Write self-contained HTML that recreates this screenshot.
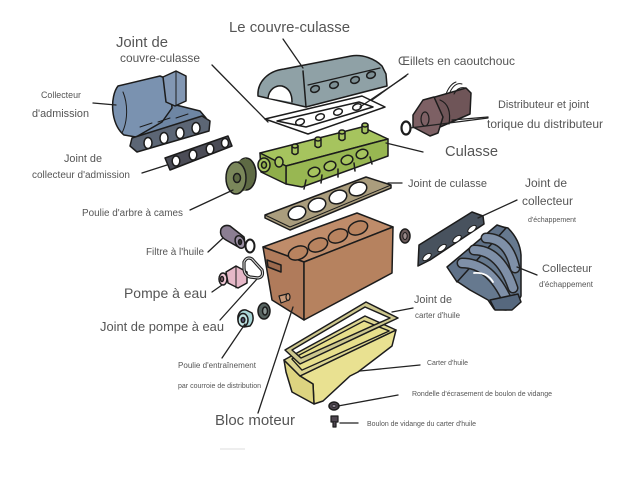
<!DOCTYPE html>
<html><head><meta charset="utf-8"><style>
html,body{margin:0;padding:0;background:#fff;}
svg{display:block;}
text{font-family:"Liberation Sans",Arial,sans-serif;fill:#555;}
</style></head><body>
<svg width="640" height="500" viewBox="0 0 640 500" xmlns="http://www.w3.org/2000/svg">
<rect width="640" height="500" fill="#fff"/>
<g stroke="#1c1c1c" stroke-width="1.5" stroke-linejoin="round" stroke-linecap="round">

<!-- Intake manifold -->
<path d="M125,118 L172,104 L200,111 L206,118 L140,139 L128,134 Z" fill="#6e86a4"/>
<path d="M118,86 C110,96 110,124 124,135 L136,137 L162,122 L172,108 L170,80 L160,76 Z" fill="#7a92b0"/>
<path d="M123,92 C128,104 128,121 122,133" fill="none" stroke-width="1"/>
<path d="M163,77 L176,71 L186,76 L186,101 L175,106 L166,102 Z" fill="#8297b3"/>
<path d="M176,72 L176,106" fill="none" stroke-width="1"/>
<path d="M140,127 L152,123 M158,122 L170,118 M176,118 L188,114" fill="none" stroke-width="1"/>
<path d="M132,138 L202,116 L210,121 L209,131 L137,152 L130,146 Z" fill="#5c6675"/>
<ellipse cx="148" cy="143" rx="4" ry="5.5" fill="#fff"/>
<ellipse cx="164" cy="138" rx="4" ry="5.5" fill="#fff"/>
<ellipse cx="180" cy="133" rx="4" ry="5.5" fill="#fff"/>
<ellipse cx="196" cy="128" rx="4" ry="5.5" fill="#fff"/>

<!-- Intake gasket -->
<path d="M165,158 L228,136 L232,146 L170,170 Z" fill="#4b4c56"/>
<ellipse cx="176" cy="161" rx="3.8" ry="5" fill="#fff"/>
<ellipse cx="193" cy="155" rx="3.8" ry="5" fill="#fff"/>
<ellipse cx="210" cy="149" rx="3.8" ry="5" fill="#fff"/>
<ellipse cx="225" cy="143" rx="3.5" ry="4.5" fill="#fff"/>

<!-- Cam pulley -->
<ellipse cx="246" cy="174" rx="10" ry="16" fill="#5e6a44"/>
<path d="M236,162 L246,158 L246,190 L236,194 Z" fill="#5e6a44" stroke="none"/>
<ellipse cx="236" cy="178" rx="10" ry="16" fill="#7a875a"/>
<ellipse cx="237" cy="178" rx="3.5" ry="4.5" fill="#5e6a44"/>

<!-- Valve cover gasket -->
<path d="M265,119 L362,96 L385,107 L308,134 Z M277,121 L359,102 L373,107 L306,127 Z" fill="#fff" fill-rule="evenodd"/>
<ellipse cx="300" cy="122" rx="4.5" ry="3" fill="#fff" transform="rotate(-20 300 122)"/>
<ellipse cx="320" cy="117" rx="4.5" ry="3" fill="#fff" transform="rotate(-20 320 117)"/>
<ellipse cx="338" cy="112" rx="4.5" ry="3" fill="#fff" transform="rotate(-20 338 112)"/>
<ellipse cx="357" cy="107" rx="4.5" ry="3" fill="#fff" transform="rotate(-20 357 107)"/>

<!-- Valve cover -->
<path d="M258,96 C257,82 268,71 284,69 L351,56 C363,54 375,59 382,66 L386,74 L387,86 L306,107 Z" fill="#8fa1a6"/>
<path d="M303,71 C304,82 305,95 306,107" fill="none"/>
<path d="M268,98 C269,89 276,85 282,86 C289,88 292,94 292,102" fill="#fff"/>
<path d="M308,85 L380,68" fill="none" stroke-width="1.2"/>
<ellipse cx="315" cy="89" rx="4.5" ry="3.2" fill="#7d8f94" transform="rotate(-20 315 89)"/>
<ellipse cx="334" cy="85" rx="4.5" ry="3.2" fill="#7d8f94" transform="rotate(-20 334 85)"/>
<ellipse cx="355" cy="80" rx="4.5" ry="3.2" fill="#7d8f94" transform="rotate(-20 355 80)"/>
<ellipse cx="371" cy="75" rx="4.5" ry="3.2" fill="#7d8f94" transform="rotate(-20 371 75)"/>

<!-- Distributor -->
<path d="M428,99 L466,88 L471,93 L470,114 L440,127 Z" fill="#6f5558"/>
<path d="M450,92 Q455,82 462,84 M454,94 Q458,86 466,88 M446,94 Q450,84 456,82" fill="none" stroke-width="1"/>
<path d="M413,115 L423,100 L434,97 L443,117 L438,133 L430,136 L413,127 Z" fill="#7d6064"/>
<ellipse cx="425" cy="119" rx="4" ry="7" fill="none" stroke-width="1.2"/>
<path d="M440,100 Q452,105 449,124" fill="none" stroke-width="1.2"/>
<ellipse cx="406" cy="128" rx="4.5" ry="6.5" fill="none" stroke-width="2.2"/>

<!-- Cylinder head -->
<path d="M260,153 L362,127 L388,139 L286,166 Z" fill="#a6c45e"/>
<path d="M286,166 L388,139 L388,156 L302,187 L286,184 Z" fill="#98b752"/>
<path d="M260,153 L286,166 L286,184 L261,172 Z" fill="#8fae4a"/>
<ellipse cx="264" cy="165" rx="6" ry="7" fill="#a6c45e"/>
<ellipse cx="264" cy="165" rx="2.5" ry="3.2" fill="#8fae4a"/>
<ellipse cx="279" cy="162" rx="4" ry="5" fill="#a6c45e"/>
<g fill="#a6c45e">
<path d="M292,146 L292,153 Q295,156 298,153 L298,146 Z"/><ellipse cx="295" cy="146" rx="3" ry="2"/>
<path d="M315,139 L315,146 Q318,149 321,146 L321,139 Z"/><ellipse cx="318" cy="139" rx="3" ry="2"/>
<path d="M339,132 L339,139 Q342,142 345,139 L345,132 Z"/><ellipse cx="342" cy="132" rx="3" ry="2"/>
<path d="M362,125 L362,132 Q365,135 368,132 L368,125 Z"/><ellipse cx="365" cy="125" rx="3" ry="2"/>
</g>
<g fill="#a6c45e">
<ellipse cx="314" cy="172" rx="6" ry="4.5" transform="rotate(-20 314 172)"/>
<ellipse cx="330" cy="166" rx="6" ry="4.5" transform="rotate(-20 330 166)"/>
<ellipse cx="347" cy="160" rx="6" ry="4.5" transform="rotate(-20 347 160)"/>
<ellipse cx="362" cy="154" rx="6" ry="4.5" transform="rotate(-20 362 154)"/>
</g>
<path d="M306,180 L304,189 M322,175 L321,183 M338,169 L338,177 M354,163 L355,171 M370,157 L372,164" fill="none"/>

<!-- Head gasket -->
<path d="M265,215 L366,177 L391,185 L391,188 L290,230 L265,218 Z" fill="#aa9d7d"/>
<path d="M265,215 L290,227 L391,185" fill="none" stroke-width="1"/>
<ellipse cx="297" cy="213" rx="9" ry="6.5" fill="#fff" transform="rotate(-20 297 213)"/>
<ellipse cx="317" cy="205" rx="9" ry="6.5" fill="#fff" transform="rotate(-20 317 205)"/>
<ellipse cx="338" cy="197" rx="9" ry="6.5" fill="#fff" transform="rotate(-20 338 197)"/>
<ellipse cx="358" cy="189" rx="9" ry="6.5" fill="#fff" transform="rotate(-20 358 189)"/>

<!-- Oil filter + o-ring -->
<path d="M221,229 Q224,224 230,226 L244,237 Q246,244 240,248 L226,240 Q219,236 221,229 Z" fill="#8b7e92"/>
<ellipse cx="240" cy="242" rx="4.5" ry="6.5" fill="#9a8ea3" transform="rotate(-25 240 242)"/>
<ellipse cx="240" cy="242" rx="1.5" ry="2.5" fill="#333"/>
<ellipse cx="250" cy="246" rx="4.5" ry="6.5" fill="none" stroke-width="2"/>

<!-- Water pump -->
<path d="M226,272 L236,266 L247,272 L247,283 L238,288 L228,283 Z" fill="#e6b8c8"/>
<path d="M236,266 L236,288" fill="none" stroke-width="1"/>
<ellipse cx="223" cy="279" rx="4" ry="6" fill="#f0c8d6"/>
<ellipse cx="222" cy="279" rx="1.5" ry="2.5" fill="#a07080"/>
<path d="M244,262 Q247,256 252,259 L262,270 Q264,277 258,278 L250,277 Q244,275 244,268 Z" fill="none" stroke="#222" stroke-width="3.2"/>
<path d="M244,262 Q247,256 252,259 L262,270 Q264,277 258,278 L250,277 Q244,275 244,268 Z" fill="none" stroke="#ddd" stroke-width="1"/>

<!-- Crank pulley + seal -->
<path d="M238,316 Q240,309 246,310 L252,313 Q255,320 250,326 L244,327 Q237,324 238,316 Z" fill="#a7d5d6"/>
<ellipse cx="243" cy="320" rx="5" ry="6.5" fill="#bfe3e3"/>
<ellipse cx="243" cy="320" rx="1.8" ry="2.5" fill="#557"/>
<ellipse cx="264" cy="311" rx="6" ry="8" fill="#55625f"/>
<ellipse cx="265" cy="311" rx="2.5" ry="4" fill="#8a9694"/>

<!-- Engine block -->
<path d="M263,247 L357,213 L393,227 L304,262 Z" fill="#bf8c6a"/>
<path d="M263,247 L304,262 L304,320 L272,300 Z" fill="#b07b5b"/>
<path d="M304,262 L393,227 L392,273 L304,320 Z" fill="#b6825f"/>
<ellipse cx="298" cy="253" rx="10" ry="6.5" fill="#b8835f" transform="rotate(-21 298 253)"/>
<ellipse cx="318" cy="245" rx="10" ry="6.5" fill="#b8835f" transform="rotate(-21 318 245)"/>
<ellipse cx="338" cy="236" rx="10" ry="6.5" fill="#b8835f" transform="rotate(-21 338 236)"/>
<ellipse cx="358" cy="228" rx="10" ry="6.5" fill="#b8835f" transform="rotate(-21 358 228)"/>
<path d="M267,260 L281,265 L281,272 L268,267 Z" fill="#9c6a4e"/>
<path d="M279,296 L287,294 L289,300 L281,303 Z" fill="#c99a7a" stroke-width="1.2"/>
<ellipse cx="288" cy="297" rx="2" ry="3.5" fill="#c99a7a" stroke-width="1.2"/>

<!-- Small seal right of block -->
<ellipse cx="405" cy="236" rx="5" ry="7" fill="#6a5a5a"/>
<ellipse cx="405" cy="236" rx="2.2" ry="3.5" fill="#9a8a8a" stroke-width="1"/>

<!-- Exhaust gasket -->
<path d="M419,245 L472,212 L483,216 L484,224 L430,260 L418,266 Z" fill="#48525e"/>
<ellipse cx="427" cy="257" rx="5" ry="2.5" fill="#fff" transform="rotate(-38 427 257)" stroke-width="1"/>
<ellipse cx="442" cy="248" rx="5" ry="2.5" fill="#fff" transform="rotate(-38 442 248)" stroke-width="1"/>
<ellipse cx="457" cy="239" rx="5" ry="2.5" fill="#fff" transform="rotate(-38 457 239)" stroke-width="1"/>
<ellipse cx="472" cy="229" rx="5" ry="2.5" fill="#fff" transform="rotate(-38 472 229)" stroke-width="1"/>

<!-- Exhaust manifold -->
<path d="M450,268 L498,226 L508,228 Q520,240 521,255 L521,296 L516,306 L506,310 L494,309 L488,300 L470,290 L458,282 Z" fill="#66798f"/>
<path d="M447,267 L497,225 L506,228 L457,282 Z" fill="#5f7188"/>
<path d="M486,238 Q508,238 515,268" fill="none" stroke="#222" stroke-width="11"/>
<path d="M486,238 Q508,238 515,268" fill="none" stroke="#7f90a8" stroke-width="8"/>
<path d="M474,250 Q500,250 513,288" fill="none" stroke="#222" stroke-width="11"/>
<path d="M474,250 Q500,250 513,288" fill="none" stroke="#7f90a8" stroke-width="8"/>
<path d="M462,263 Q490,263 507,300" fill="none" stroke="#222" stroke-width="11"/>
<path d="M462,263 Q490,263 507,300" fill="none" stroke="#7f90a8" stroke-width="8"/>
<path d="M474,273 Q487,272 493,282" fill="none" stroke="#fff" stroke-width="1.8"/>
<path d="M490,300 L518,294 L521,302 L512,310 L495,310 Z" fill="#56687e"/>

<!-- Oil pan body -->
<path d="M300,376 L396,330 L392,346 L358,372 L350,376 L323,401 L314,404 L313,384 Z" fill="#e9e191"/>
<path d="M284,360 L300,376 L313,384 L314,404 L292,392 L286,372 Z" fill="#ddd480"/>
<!-- Oil pan rim + interior -->
<path d="M284,360 L365,316 L396,330 L300,376 Z M292,359 L364,321 L389,331 L302,370 Z" fill="#dcd590" fill-rule="evenodd"/>
<path d="M292,359 L364,321 L389,331 L302,370 Z" fill="#e7df8c" stroke-width="1.2"/>
<!-- Oil pan gasket -->
<path d="M285,350 L366,302 L398,318 L300,364 Z M292,350 L365,307 L390,318 L301,358 Z" fill="#cdc78e" fill-rule="evenodd"/>

<!-- Drain washer & bolt -->
<ellipse cx="334" cy="406" rx="5" ry="4" fill="#4e4650"/>
<ellipse cx="334" cy="406" rx="2" ry="1.5" fill="#8a8290" stroke-width="0.8"/>
<path d="M331,416 L338,416 L338,422 L331,422 Z" fill="#4e4650" stroke-width="1.2"/>
<path d="M333,422 L333,427 L336,427 L336,422" fill="#4e4650" stroke-width="1.2"/>
</g>

<!-- Leader lines -->
<g stroke="#222" stroke-width="1.3" stroke-linecap="round" fill="none">
<path d="M283,39 L303,68"/>
<path d="M212,65 L268,122"/>
<path d="M408,74 L372,100"/>
<path d="M406,76 L360,107"/>
<path d="M488,117 L452,120"/>
<path d="M488,118 L410,128"/>
<path d="M423,152 L386,143"/>
<path d="M402,183 L388,183"/>
<path d="M517,200 L478,218"/>
<path d="M93,103 L116,105"/>
<path d="M142,173 L167,165"/>
<path d="M190,210 L233,190"/>
<path d="M208,252 L223,238"/>
<path d="M212,292 L222,285"/>
<path d="M220,320 L257,279"/>
<path d="M222,358 L245,324"/>
<path d="M258,413 L293,307"/>
<path d="M413,308 L392,312"/>
<path d="M537,275 L517,267"/>
<path d="M420,365 L360,371"/>
<path d="M398,395 L338,406"/>
<path d="M358,423 L340,423"/>
</g>
<path d="M220,449 L245,449" stroke="#e8e8e8" stroke-width="1.5"/>

<!-- Labels -->
<text x="229" y="32" font-size="15" textLength="121" lengthAdjust="spacingAndGlyphs">Le couvre-culasse</text>
<text x="116" y="47" font-size="15" textLength="52" lengthAdjust="spacingAndGlyphs">Joint de</text>
<text x="120" y="62" font-size="12" textLength="80" lengthAdjust="spacingAndGlyphs">couvre-culasse</text>
<text x="398" y="65" font-size="12" textLength="117" lengthAdjust="spacingAndGlyphs">Œillets en caoutchouc</text>
<text x="41" y="98" font-size="9" textLength="40" lengthAdjust="spacingAndGlyphs">Collecteur</text>
<text x="32" y="117" font-size="11" textLength="57" lengthAdjust="spacingAndGlyphs">d'admission</text>
<text x="498" y="108" font-size="11" textLength="91" lengthAdjust="spacingAndGlyphs">Distributeur et joint</text>
<text x="487" y="128" font-size="12" textLength="116" lengthAdjust="spacingAndGlyphs">torique du distributeur</text>
<text x="445" y="156" font-size="15" textLength="53" lengthAdjust="spacingAndGlyphs">Culasse</text>
<text x="64" y="162" font-size="11" textLength="38" lengthAdjust="spacingAndGlyphs">Joint de</text>
<text x="32" y="178" font-size="10" textLength="98" lengthAdjust="spacingAndGlyphs">collecteur d'admission</text>
<text x="408" y="187" font-size="11" textLength="79" lengthAdjust="spacingAndGlyphs">Joint de culasse</text>
<text x="525" y="187" font-size="12" textLength="42" lengthAdjust="spacingAndGlyphs">Joint de</text>
<text x="522" y="205" font-size="11.5" textLength="51" lengthAdjust="spacingAndGlyphs">collecteur</text>
<text x="528" y="222" font-size="7" textLength="48" lengthAdjust="spacingAndGlyphs">d'échappement</text>
<text x="82" y="216" font-size="10" textLength="101" lengthAdjust="spacingAndGlyphs">Poulie d'arbre à cames</text>
<text x="146" y="255" font-size="10" textLength="58" lengthAdjust="spacingAndGlyphs">Filtre à l'huile</text>
<text x="542" y="272" font-size="11" textLength="50" lengthAdjust="spacingAndGlyphs">Collecteur</text>
<text x="539" y="287" font-size="8" textLength="54" lengthAdjust="spacingAndGlyphs">d'échappement</text>
<text x="124" y="298" font-size="14" textLength="83" lengthAdjust="spacingAndGlyphs">Pompe à eau</text>
<text x="414" y="303" font-size="11" textLength="38" lengthAdjust="spacingAndGlyphs">Joint de</text>
<text x="415" y="318" font-size="8" textLength="45" lengthAdjust="spacingAndGlyphs">carter d'huile</text>
<text x="100" y="331" font-size="13" textLength="124" lengthAdjust="spacingAndGlyphs">Joint de pompe à eau</text>
<text x="427" y="365" font-size="7" textLength="41" lengthAdjust="spacingAndGlyphs">Carter d'huile</text>
<text x="178" y="368" font-size="8" textLength="78" lengthAdjust="spacingAndGlyphs">Poulie d'entraînement</text>
<text x="178" y="388" font-size="7" textLength="83" lengthAdjust="spacingAndGlyphs">par courroie de distribution</text>
<text x="412" y="396" font-size="7" textLength="140" lengthAdjust="spacingAndGlyphs">Rondelle d'écrasement de boulon de vidange</text>
<text x="215" y="425" font-size="15" textLength="80" lengthAdjust="spacingAndGlyphs">Bloc moteur</text>
<text x="367" y="426" font-size="7" textLength="109" lengthAdjust="spacingAndGlyphs">Boulon de vidange du carter d'huile</text>
</svg>
</body></html>
